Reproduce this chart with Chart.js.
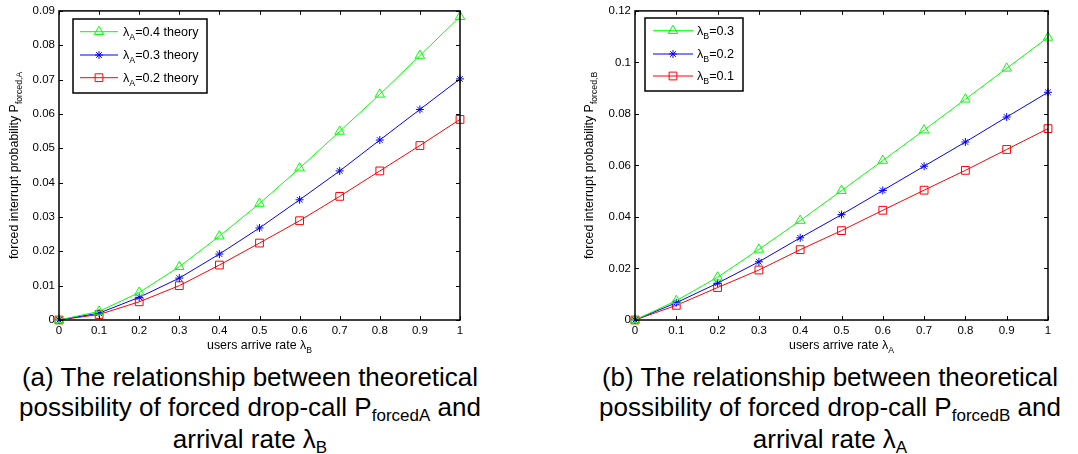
<!DOCTYPE html>
<html>
<head>
<meta charset="utf-8">
<script src="https://cdn.jsdelivr.net/npm/chart.js@4.4.1/dist/chart.umd.min.js"></script>
<style>
  html, body { margin: 0; padding: 0; background: #fff; overflow: hidden; }
  body { width: 1078px; height: 454px; position: relative; font-family: 'Liberation Sans', Arial, sans-serif; color: #000; }
  .panel { position: absolute; top: 0; height: 360px; }
  .caption { position: absolute; top: 363px; width: 540px; text-align: center; font-size: 26px; line-height: 29.5px; white-space: nowrap; }
  .caption .s { font-size: 17px; position: relative; top: 5px; }
</style>
</head>
<body>
<div class="panel" style="left:0;width:540px"><canvas id="chart-a"></canvas></div>
<div class="panel" style="left:540px;width:538px"><canvas id="chart-b"></canvas></div>
<div class="caption" style="left:-20px">(a) The relationship between theoretical<br>possibility of forced drop-call P<span class="s">forcedA</span> and<br>arrival rate λ<span class="s">B</span></div>
<div class="caption" style="left:560px">(b) The relationship between theoretical<br>possibility of forced drop-call P<span class="s">forcedB</span> and<br>arrival rate λ<span class="s">A</span></div>
<script>
const FAMILY = "'Liberation Sans', Arial, Helvetica, sans-serif";
Chart.defaults.font.family = FAMILY;
Chart.defaults.color = '#000';

// --- DATOS ---
const arriveRate = [0, 0.1, 0.2, 0.3, 0.4, 0.5, 0.6, 0.7, 0.8, 0.9, 1];
const rateTickLabels = ['0', '0.1', '0.2', '0.3', '0.4', '0.5', '0.6', '0.7', '0.8', '0.9', '1'];

// (a) P_forced,A frente a lambda_B
const forcedA_lam04 = [0, 0.0025, 0.0080, 0.0155, 0.0244, 0.0339, 0.0442, 0.0549, 0.0657, 0.0770, 0.0883];
const forcedA_lam03 = [0, 0.0020, 0.0066, 0.0122, 0.0192, 0.0268, 0.0350, 0.0434, 0.0524, 0.0613, 0.0702];
const forcedA_lam02 = [0, 0.0016, 0.0053, 0.0100, 0.0160, 0.0224, 0.0289, 0.0360, 0.0434, 0.0508, 0.0584];
const yTicksA = [0, 0.01, 0.02, 0.03, 0.04, 0.05, 0.06, 0.07, 0.08, 0.09];
const yTickLabelsA = ['0', '0.01', '0.02', '0.03', '0.04', '0.05', '0.06', '0.07', '0.08', '0.09'];
const legendValuesA = ['0.4', '0.3', '0.2'];

// (b) P_forced,B frente a lambda_A
const forcedB_lam03 = [0, 0.0075, 0.0166, 0.0274, 0.0386, 0.0502, 0.0619, 0.0737, 0.0857, 0.0977, 0.1097];
const forcedB_lam02 = [0, 0.0067, 0.0143, 0.0226, 0.0319, 0.0409, 0.0503, 0.0597, 0.0691, 0.0788, 0.0884];
const forcedB_lam01 = [0, 0.0057, 0.0126, 0.0194, 0.0273, 0.0347, 0.0426, 0.0504, 0.0581, 0.0662, 0.0743];
const yTicksB = [0, 0.02, 0.04, 0.06, 0.08, 0.1, 0.12];
const yTickLabelsB = ['0', '0.02', '0.04', '0.06', '0.08', '0.1', '0.12'];
const legendValuesB = ['0.3', '0.2', '0.1'];

const GREEN = '#00ff00', BLUE = '#0000ff', RED = '#ff0000';

// --- TEXTO CON SUBÍNDICES ---
function richWidth(ctx, parts, size) {
    let w = 0;
    parts.forEach(p => {
        ctx.font = (p.sub ? size * 0.7 : size) + 'px ' + FAMILY;
        w += ctx.measureText(p.t).width;
    });
    return w;
}
function drawRich(ctx, parts, x, y, size) {
    ctx.textBaseline = 'alphabetic';
    ctx.textAlign = 'left';
    parts.forEach(p => {
        const s = p.sub ? size * 0.7 : size;
        ctx.font = s + 'px ' + FAMILY;
        ctx.fillText(p.t, x, y + (p.sub ? size * 0.33 : 0));
        x += ctx.measureText(p.t).width;
    });
}

// --- MARCO ESTILO MATLAB: caja, ticks hacia dentro, títulos y leyenda ---
const matlabFrame = {
    id: 'matlabFrame',
    afterDraw(chart, args, opts) {
        const { ctx, chartArea: a, scales: { x, y } } = chart;
        ctx.save();
        ctx.strokeStyle = '#000';
        ctx.lineWidth = 1;
        ctx.beginPath();
        x.ticks.forEach(t => {
            const px = Math.round(x.getPixelForValue(t.value)) + 0.5;
            ctx.moveTo(px, a.bottom); ctx.lineTo(px, a.bottom - 4);
            ctx.moveTo(px, a.top); ctx.lineTo(px, a.top + 4);
        });
        y.ticks.forEach(t => {
            const py = Math.round(y.getPixelForValue(t.value)) + 0.5;
            ctx.moveTo(a.left, py); ctx.lineTo(a.left + 4, py);
            ctx.moveTo(a.right, py); ctx.lineTo(a.right - 4, py);
        });
        ctx.stroke();
        ctx.lineWidth = 1.5;
        ctx.strokeRect(a.left, a.top, a.right - a.left, a.bottom - a.top);

        ctx.fillStyle = '#000';
        // título eje x
        const xs = 12.4;
        const xw = richWidth(ctx, opts.xTitle, xs);
        drawRich(ctx, opts.xTitle, (a.left + a.right) / 2 - xw / 2, opts.xTitleY, xs);
        // título eje y (rotado)
        const yw = richWidth(ctx, opts.yTitle, xs);
        ctx.save();
        ctx.translate(opts.yTitleX, (a.top + a.bottom) / 2);
        ctx.rotate(-Math.PI / 2);
        drawRich(ctx, opts.yTitle, -yw / 2, 0, xs);
        ctx.restore();

        // leyenda
        const L = opts.legend;
        ctx.fillStyle = '#fff';
        ctx.fillRect(L.left, L.top, L.width, L.height);
        ctx.lineWidth = 1.5;
        ctx.strokeStyle = '#000';
        ctx.strokeRect(L.left, L.top, L.width, L.height);
        chart.data.datasets.forEach((ds, i) => {
            const ry = L.rows[i];
            ctx.strokeStyle = ds.borderColor;
            ctx.lineWidth = 1;
            ctx.beginPath();
            ctx.moveTo(L.lineX[0], ry); ctx.lineTo(L.lineX[1], ry);
            ctx.stroke();
            ctx.fillStyle = 'rgba(0,0,0,0)';
            Chart.helpers.drawPoint(ctx, { pointStyle: ds.pointStyle, radius: ds.pointRadius, rotation: 0, borderWidth: 1 },
                (L.lineX[0] + L.lineX[1]) / 2, ry);
            ctx.fillStyle = '#000';
            drawRich(ctx, ds.legendParts, L.textX, ry + 4, 12.6);
        });
        ctx.restore();
    }
};

function serie(parts, data, color, style, radius) {
    return {
        label: parts.map(p => p.t).join(''),
        legendParts: parts,
        data: arriveRate.map((v, i) => ({ x: v, y: data[i] })),
        borderColor: color,
        backgroundColor: color,
        borderWidth: 1,
        pointStyle: style,
        pointRadius: radius,
        pointHoverRadius: radius,
        pointBorderColor: color,
        pointBackgroundColor: 'rgba(0,0,0,0)',
        pointBorderWidth: 1,
        tension: 0,
        clip: false
    };
}

function makeChart(id, datasets, yTicks, yLabels, yMax, frame, yWidth, padRight) {
    return new Chart(document.getElementById(id), {
        type: 'line',
        data: { datasets },
        options: {
            responsive: true,
            maintainAspectRatio: false,
            animation: false,
            events: [],
            layout: { padding: { top: 9, right: padRight, left: 0, bottom: 0 } },
            plugins: { legend: { display: false }, tooltip: { enabled: false }, matlabFrame: frame },
            scales: {
                x: {
                    type: 'linear', min: 0, max: 1,
                    grid: { display: false, drawTicks: false },
                    border: { display: false },
                    ticks: { padding: 4, font: { size: 11.5 }, maxRotation: 0, autoSkip: false,
                             callback: (v, i) => rateTickLabels[i] },
                    afterBuildTicks: s => { s.ticks = arriveRate.map(v => ({ value: v })); },
                    afterFit: s => { s.height = 40; }
                },
                y: {
                    min: 0, max: yMax,
                    grid: { display: false, drawTicks: false },
                    border: { display: false },
                    ticks: { padding: 4, font: { size: 11.5 }, autoSkip: false,
                             callback: (v, i) => yLabels[i] },
                    afterBuildTicks: s => { s.ticks = yTicks.map(v => ({ value: v })); },
                    afterFit: s => { s.width = yWidth; }
                }
            }
        },
        plugins: [matlabFrame]
    });
}

const lam = (sub, val, suffix) => [{ t: 'λ' }, { t: sub, sub: true }, { t: '=' + val + suffix }];

makeChart('chart-a', [
    serie(lam('A', legendValuesA[0], ' theory'), forcedA_lam04, GREEN, 'triangle', 5.5),
    serie(lam('A', legendValuesA[1], ' theory'), forcedA_lam03, BLUE, 'star', 4),
    serie(lam('A', legendValuesA[2], ' theory'), forcedA_lam02, RED, 'rect', 5.5)
], yTicksA, yTickLabelsA, 0.09, {
    xTitle: [{ t: 'users arrive rate λ' }, { t: 'B', sub: true }],
    xTitleY: 349,
    yTitle: [{ t: 'forced interrupt probability P' }, { t: 'forced,A', sub: true }],
    yTitleX: 18,
    legend: { left: 73, top: 19, width: 134, height: 74, rows: [31.7, 55, 77.7], lineX: [80, 118], textX: 123 }
}, 59, 80);

makeChart('chart-b', [
    serie(lam('B', legendValuesB[0], ''), forcedB_lam03, GREEN, 'triangle', 5.5),
    serie(lam('B', legendValuesB[1], ''), forcedB_lam02, BLUE, 'star', 4),
    serie(lam('B', legendValuesB[2], ''), forcedB_lam01, RED, 'rect', 5.5)
], yTicksB, yTickLabelsB, 0.12, {
    xTitle: [{ t: 'users arrive rate λ' }, { t: 'A', sub: true }],
    xTitleY: 349,
    yTitle: [{ t: 'forced interrupt probability P' }, { t: 'forced,B', sub: true }],
    yTitleX: 53,
    legend: { left: 105, top: 18, width: 98, height: 73, rows: [30.7, 54, 76], lineX: [113, 153], textX: 157 }
}, 95, 30);
</script>
</body>
</html>
